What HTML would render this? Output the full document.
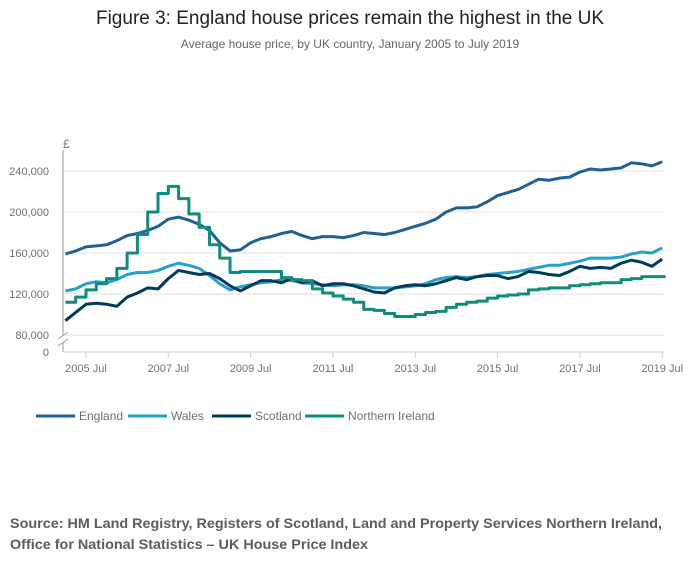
<!DOCTYPE html>
<html><head><meta charset="utf-8"><style>
body{margin:0;background:#fff;}
svg{display:block;font-family:"Liberation Sans",sans-serif;}
</style></head><body>
<svg id="chart" width="700" height="574" viewBox="0 0 700 574" xmlns="http://www.w3.org/2000/svg">
<text x="350" y="24" text-anchor="middle" font-size="19" fill="#222">Figure 3: England house prices remain the highest in the UK</text>
<text x="350" y="48" text-anchor="middle" font-size="12" fill="#666">Average house price, by UK country, January 2005 to July 2019</text>
<text x="63" y="148" font-size="12" fill="#777">£</text>
<g id="grid"></g>
<g id="axes"></g>
<g id="series"></g>
<g id="legend"></g>
<text x="10" y="528" font-size="14" font-weight="bold" fill="#5c5c5c" textLength="652" lengthAdjust="spacingAndGlyphs">Source: HM Land Registry, Registers of Scotland, Land and Property Services Northern Ireland,</text>
<text x="10" y="549" font-size="14" font-weight="bold" fill="#5c5c5c" textLength="358" lengthAdjust="spacingAndGlyphs">Office for National Statistics – UK House Price Index</text>
</svg>
<script>
const yTicks = [80, 120, 160, 200, 240];
const yTickLabels = ["80,000", "120,000", "160,000", "200,000", "240,000"];
const xTickMonths = [6, 30, 54, 78, 102, 126, 150, 174];
const xTickLabels = ["2005 Jul", "2007 Jul", "2009 Jul", "2011 Jul", "2013 Jul", "2015 Jul", "2017 Jul", "2019 Jul"];
const seriesNames = ["England", "Wales", "Scotland", "Northern Ireland"];
// quarterly values (thousand £), Jan 2005 .. Jul 2019
const england = [159,162,166,167,168,172,177,179,182,186,193,195,192,188,182,170,162,163,170,174,176,179,181,177,174,176,176,175,177,180,179,178,180,183,186,189,193,200,204,204,205,210,216,219,222,227,232,231,233,234,239,242,241,242,243,248,247,245,249];
const wales = [123,125,130,132,131,134,139,141,141,143,147,150,148,145,138,130,124,127,129,131,132,134,133,131,130,129,128,129,129,128,126,126,126,127,128,130,134,136,137,136,137,139,140,141,142,144,146,148,148,150,152,155,155,155,156,159,161,160,165];
const scotland = [94,102,110,111,110,108,117,121,126,125,135,143,141,139,140,135,128,123,128,133,133,131,135,131,133,128,130,130,128,125,122,121,126,128,129,128,130,133,136,134,137,138,138,135,137,142,141,139,138,142,147,145,146,145,150,153,151,147,154];
const nireland = [112,117,124,130,135,145,160,178,200,218,225,213,198,185,168,155,141,142,142,142,142,136,134,133,125,121,118,115,112,105,104,101,98,98,100,102,103,107,110,112,113,116,118,119,120,124,125,126,126,128,129,130,131,131,134,135,137,137,137];

const NS = "http://www.w3.org/2000/svg";
const x0 = 65.4, pxPerMonth = 3.43, left = 63, right = 664, bottom = 352;
const xScale = m => x0 + m * pxPerMonth;
const yScale = v => 171 + (240 - v) * 41 / 40;
function mk(tag, attrs, parent) {
  const e = document.createElementNS(NS, tag);
  for (const k in attrs) e.setAttribute(k, attrs[k]);
  parent.appendChild(e);
  return e;
}
const grid = document.getElementById('grid');
const axes = document.getElementById('axes');
yTicks.forEach((t, i) => {
  const y = yScale(t);
  const l = mk('line', {x1: left, x2: right, y1: y, y2: y, stroke: '#e0e0e0', 'stroke-width': 1}, grid);
  
  
  const tx = mk('text', {x: 49, y: y + 4, 'text-anchor': 'end', 'font-size': 11, fill: '#707070'}, axes);
  tx.textContent = yTickLabels[i];
  
  
});
const zero = mk('text', {x: 49, y: bottom + 4, 'text-anchor': 'end', 'font-size': 11, fill: '#707070'}, axes);
zero.textContent = "0";


const yAxis = mk('path', {d: `M${left} 150 V336 M${left} 343 V${bottom}`, stroke: '#999', fill: 'none'}, axes);


const brk = mk('path', {d: `M58 339 L68 332 M58 346 L68 339`, stroke: '#999', fill: 'none'}, axes);


const xAxis = mk('line', {x1: left, x2: right, y1: bottom, y2: bottom, stroke: '#c6d0e0'}, axes);


xTickMonths.forEach((m, i) => {
  const x = xScale(m);
  const t = mk('line', {x1: x, x2: x, y1: bottom, y2: bottom + 6, stroke: '#c6d0e0'}, axes);
  
  
  const tx = mk('text', {x: x, y: bottom + 20, 'text-anchor': 'middle', 'font-size': 11, fill: '#707070'}, axes);
  tx.textContent = xTickLabels[i];
  
  
});
const colors = ["#206095", "#27a0cc", "#003c57", "#118c7b"];
const allData = [england, wales, scotland, nireland];
const series = document.getElementById('series');
allData.forEach((arr, si) => {
  let d = "";
  arr.forEach((v, i) => {
    const x = xScale(i * 3), y = yScale(v);
    if (i === 0) d += `M${x} ${y}`;
    else if (si === 3) d += ` H${x} V${y}`;
    else d += ` L${x} ${y}`;
  });
  if (si === 3) d += ` H${xScale((arr.length - 1) * 3 + 1)}`;
  const p = mk('path', {d: d, stroke: colors[si], 'stroke-width': 3, fill: 'none', 'stroke-linejoin': 'round'}, series);
  
  
});
const legend = document.getElementById('legend');
const lx = [36, 128, 212, 305];
seriesNames.forEach((n, i) => {
  const l = mk('line', {x1: lx[i], x2: lx[i] + 39, y1: 416, y2: 416, stroke: colors[i], 'stroke-width': 3}, legend);
  
  
  const t = mk('text', {x: lx[i] + 43, y: 420, 'font-size': 12, fill: '#707070'}, legend);
  t.textContent = n;
  
  
});
</script>
</body></html>
